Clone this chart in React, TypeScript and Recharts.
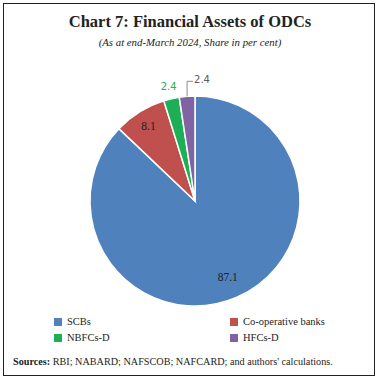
import React from "react";
import { PieChart, Pie, Cell } from "recharts";

const categories = ["SCBs", "Co-operative banks", "NBFCs-D", "HFCs-D"];
const shares = [87.1, 8.1, 2.4, 2.4];
const colors = ["#4F81BD", "#C0504D", "#1DAF55", "#8064A2"];
const labelColors = ["#222222", "#222222", "#1DAF55", "#595959"];

const data = categories.map((name, i) => ({ name, value: shares[i] }));

const RAD = Math.PI / 180;
const serif = "'Liberation Serif', 'DejaVu Serif', serif";

type LabelProps = {
  cx?: number;
  cy?: number;
  midAngle?: number;
  outerRadius?: number;
  index?: number;
  value?: number;
};

const SliceLabel = (props: LabelProps) => {
  const { cx = 0, cy = 0, midAngle = 0, outerRadius = 0, index = 0, value } = props;
  const cos = Math.cos(-midAngle * RAD);
  const sin = Math.sin(-midAngle * RAD);
  const txt = typeof value === "number" ? value.toFixed(1) : value;

  if (index === 3) {
    // leader line for the thin last slice
    const sx = cx + outerRadius * cos;
    const sy = cy + outerRadius * sin;
    const ey = sy - 15;
    return (
      <g>
        <polyline
          points={`${sx},${sy} ${sx},${ey} ${sx + 6},${ey}`}
          fill="none"
          stroke="#8c8c8c"
          strokeWidth={1}
        />
        <text x={sx + 7} y={ey} dy={2} fontSize={10} fill={labelColors[index]} fontFamily="'DejaVu Sans', sans-serif">
          {txt}
        </text>
      </g>
    );
  }

  const ratio = index === 0 ? 0.79 : index === 1 ? 0.84 : 1.12;
  const x = cx + outerRadius * ratio * cos;
  const y = cy + outerRadius * ratio * sin;
  return (
    <text
      x={x}
      y={y}
      textAnchor="middle"
      dominantBaseline="central"
      fontSize={index === 2 ? 10 : 11.5}
      fill={labelColors[index]}
      fontFamily={index === 2 ? "'DejaVu Sans', sans-serif" : serif}
    >
      {txt}
    </text>
  );
};

const LegendItem: React.FC<{ color: string; label: string; left: number; top: number }> = ({
  color,
  label,
  left,
  top,
}) => (
  <div style={{ position: "absolute", left, top, display: "flex", alignItems: "center" }}>
    <span style={{ width: 8, height: 8, background: color, marginRight: 5 }} />
    <span style={{ fontSize: 10.5, color: "#222", fontFamily: serif }}>{label}</span>
  </div>
);

const App: React.FC = () => {
  return (
    <div
      style={{
        position: "absolute",
        left: 0,
        top: 0,
        width: 380,
        height: 382,
        background: "#fff",
      }}
    >
      <div
        style={{
          position: "absolute",
          left: 3,
          top: 3,
          width: 372,
          height: 373,
          border: "1.5px solid #222",
          boxSizing: "border-box",
        }}
      />
      <div
        style={{
          position: "absolute",
          left: 0,
          top: 12,
          width: 380,
          textAlign: "center",
          fontFamily: serif,
          fontWeight: 700,
          fontSize: 16.5,
          color: "#222",
        }}
      >
        Chart 7: Financial Assets of ODCs
      </div>
      <div
        style={{
          position: "absolute",
          left: 0,
          top: 36,
          width: 380,
          textAlign: "center",
          fontFamily: serif,
          fontStyle: "italic",
          fontSize: 10.8,
          color: "#222",
        }}
      >
        (As at end-March 2024, Share in per cent)
      </div>

      <div style={{ position: "absolute", left: 0, top: 50 }}>
        <PieChart width={380} height={260}>
          <Pie
            data={data}
            dataKey="value"
            nameKey="name"
            cx={190}
            cy={146}
            outerRadius={105}
            startAngle={90}
            endAngle={-270}
            stroke="#ffffff"
            strokeWidth={1.5}
            label={(p: LabelProps) => <SliceLabel {...p} />}
            labelLine={false}
            isAnimationActive={false}
          >
            {data.map((d, i) => (
              <Cell key={d.name} fill={colors[i]} />
            ))}
          </Pie>
        </PieChart>
      </div>

      <LegendItem color={colors[0]} label={categories[0]} left={54} top={316} />
      <LegendItem color={colors[1]} label={categories[1]} left={230} top={316} />
      <LegendItem color={colors[2]} label={categories[2]} left={54} top={332} />
      <LegendItem color={colors[3]} label={categories[3]} left={230} top={332} />

      <div
        style={{
          position: "absolute",
          left: 13,
          top: 356,
          fontFamily: serif,
          fontSize: 10.2,
          color: "#222",
          whiteSpace: "nowrap",
        }}
      >
        <b>Sources:</b> RBI; NABARD; NAFSCOB; NAFCARD; and authors' calculations.
      </div>
    </div>
  );
};

export default App;
